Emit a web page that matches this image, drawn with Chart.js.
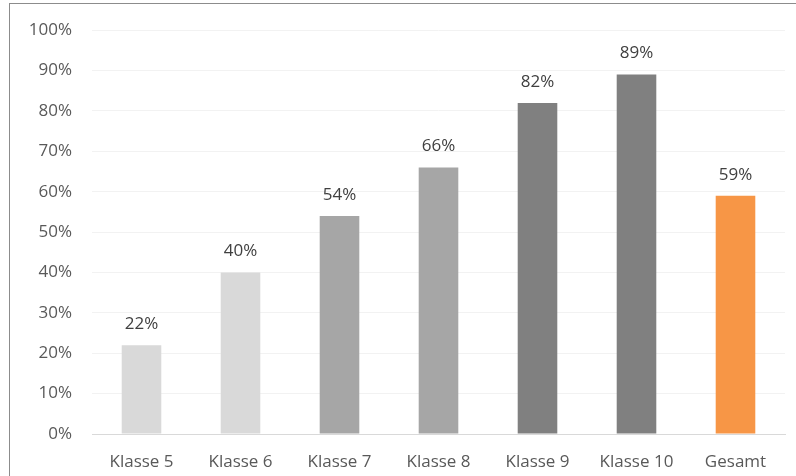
<!DOCTYPE html>
<html>
<head>
<meta charset="utf-8">
<script src="https://cdn.jsdelivr.net/npm/chart.js@4/dist/chart.umd.min.js"></script>
<style>
  html, body { margin: 0; padding: 0; background: #fff; overflow: hidden; }
  #frame { position: absolute; left: 9px; top: 3px; width: 800px; height: 480px; border: 1px solid #8c8c8c; }
  #wrap { position: absolute; left: 0; top: 0; width: 796px; height: 476px; }
</style>
</head>
<body>
<div id="frame"></div>
<div id="wrap"><canvas id="chart" width="796" height="476"></canvas></div>
<script>
// ─── Data ────────────────────────────────────────────────────────────────
const categories = ['Klasse 5', 'Klasse 6', 'Klasse 7', 'Klasse 8', 'Klasse 9', 'Klasse 10', 'Gesamt'];
const values = [22, 40, 54, 66, 82, 89, 59];
const barColors = ['#D9D9D9', '#D9D9D9', '#A6A6A6', '#A6A6A6', '#808080', '#808080', '#F79646'];
const yTicks = [0, 10, 20, 30, 40, 50, 60, 70, 80, 90, 100];

const FONT = '"Open Sans", "Noto Sans", sans-serif';

// ─── Value labels above bars ─────────────────────────────────────────────
const valueLabels = {
  id: 'valueLabels',
  afterDatasetsDraw(chart) {
    const ctx = chart.ctx;
    const meta = chart.getDatasetMeta(0);
    ctx.save();
    ctx.font = '17px ' + FONT;
    ctx.fillStyle = '#404040';
    ctx.textAlign = 'center';
    ctx.textBaseline = 'middle';
    meta.data.forEach((bar, i) => {
      ctx.fillText(values[i] + '%', bar.x, bar.y - 21);
    });
    ctx.restore();
  }
};

new Chart(document.getElementById('chart'), {
  type: 'bar',
  data: {
    labels: categories,
    datasets: [{
      data: values,
      backgroundColor: barColors,
      borderWidth: 0,
      categoryPercentage: 1,
      barPercentage: 0.4,
    }],
  },
  options: {
    responsive: false,
    animation: false,
    layout: { padding: { left: 0, right: 11, top: 29, bottom: 0 } },
    plugins: { legend: { display: false }, tooltip: { enabled: false } },
    scales: {
      x: {
        grid: { display: false, drawTicks: false },
        border: { display: true, color: '#D9D9D9', width: 1 },
        ticks: { color: '#595959', font: { family: FONT, size: 17 }, padding: 18 },
        afterFit(s) { s.height = 42; },
      },
      y: {
        min: 0,
        max: 100,
        afterBuildTicks(s) { s.ticks = yTicks.map(v => ({ value: v })); },
        grid: { color: '#F2F2F2', drawTicks: false },
        border: { display: false },
        ticks: {
          color: '#595959',
          font: { family: FONT, size: 17 },
          padding: 20,
          callback: v => v + '%',
        },
        afterFit(s) { s.width = 92; },
      },
    },
  },
  plugins: [valueLabels],
});
</script>
</body>
</html>
